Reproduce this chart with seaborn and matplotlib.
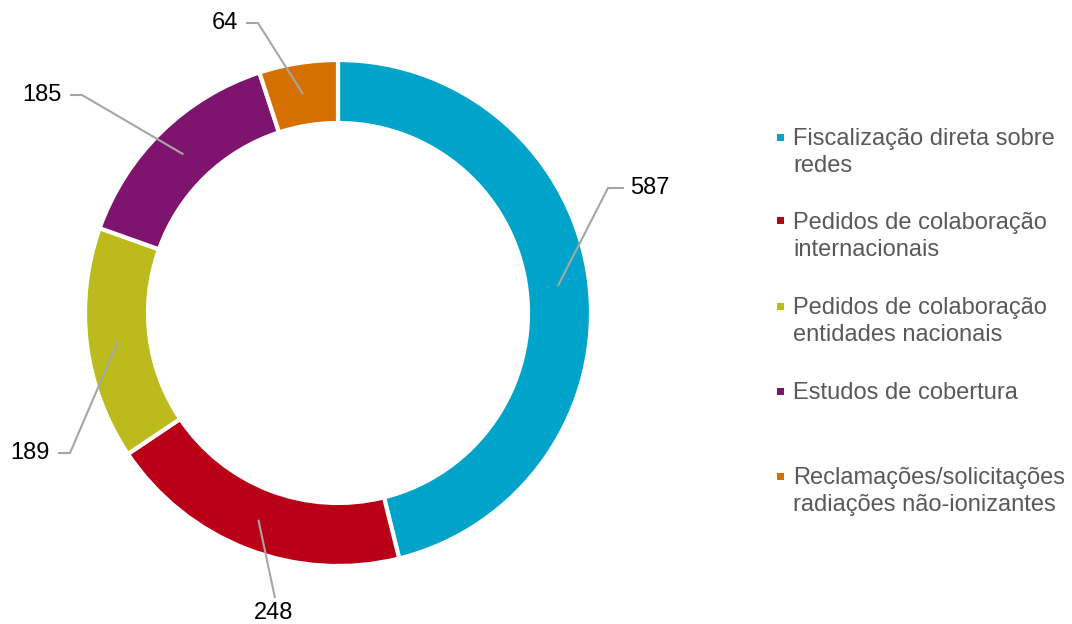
import numpy as np
import matplotlib
matplotlib.use("Agg")
import matplotlib.pyplot as plt
import seaborn as sns

categories = [
    "Fiscalização direta sobre\nredes",
    "Pedidos de colaboração\ninternacionais",
    "Pedidos de colaboração\nentidades nacionais",
    "Estudos de cobertura",
    "Reclamações/solicitações\nradiações não-ionizantes",
]
values = [587, 248, 189, 185, 64]
colors = ["#00A3C9", "#B90016", "#BDBA1E", "#7F146E", "#D57100"]

sns.set_theme(style="white")
plt.rcParams["font.family"] = ["Liberation Sans", "DejaVu Sans"]

W, H = 1072, 624
fig = plt.figure(figsize=(W / 100, H / 100), dpi=100)
fig.patch.set_facecolor("white")

# donut axes: centre at (338, 313) px, outer radius 253 px
cx, cy, R = 338, 313, 253
half = 300
ax = fig.add_axes([(cx - half) / W, (H - cy - half) / H, 2 * half / W, 2 * half / H])
palette = sns.color_palette(colors)
wedges, _ = ax.pie(values, colors=palette, startangle=90, counterclock=False,
                   radius=1.0, wedgeprops=dict(width=0.249, edgecolor="white", linewidth=3))
lim = half / R
ax.set_xlim(-lim, lim)
ax.set_ylim(-lim, lim)
ax.set_aspect("equal")
ax.axis("off")

def px(x, y):
    return ((x - cx) / R, (cy - y) / R)

# label layout: (elbow point px, end-of-horizontal px or None, text anchor px, ha)
layout = [
    ((608, 188), (624, 188), (630, 188), "left"),
    ((275, 598), None, (274, 613), "center"),
    ((70, 453), (58, 453), (50, 453), "right"),
    ((82, 95), (70, 95), (62, 95), "right"),
    ((258, 23), (246, 23), (238, 23), "right"),
]
line_col = "#A6A6A6"
for w, v, (elb, hend, tpos, ha) in zip(wedges, values, layout):
    ang = np.deg2rad((w.theta1 + w.theta2) / 2)
    r = 1 - 0.249 / 2
    sx, sy = r * np.cos(ang), r * np.sin(ang)
    ex, ey = px(*elb)
    xs, ys = [sx, ex], [sy, ey]
    if hend is not None:
        hx, hy = px(*hend)
        xs.append(hx); ys.append(hy)
    ax.plot(xs, ys, color=line_col, lw=1.5, clip_on=False, solid_capstyle="butt")
    tx, ty = px(*tpos)
    ax.text(tx, ty, str(v), ha=ha, va="center", fontsize=17, color="#000000", clip_on=False)

# legend drawn manually (marker aligned with first line)
legend_col = "#595959"
baselines = [145, 229, 314, 399, 484]
line_gap = 27
for cat, col, b in zip(categories, colors, baselines):
    lines = cat.split("\n")
    for i, ln in enumerate(lines):
        fig.text(793 / W, 1 - (b + i * line_gap) / H, ln, ha="left", va="baseline",
                 fontsize=17, color=legend_col)
    s = 7
    fig.patches.append(plt.Rectangle(((780 - s / 2) / W, 1 - (b - 8 + s / 2) / H), s / W, s / H,
                                     transform=fig.transFigure, facecolor=col, edgecolor="none"))

fig.savefig("out.png", dpi=100, facecolor="white")
